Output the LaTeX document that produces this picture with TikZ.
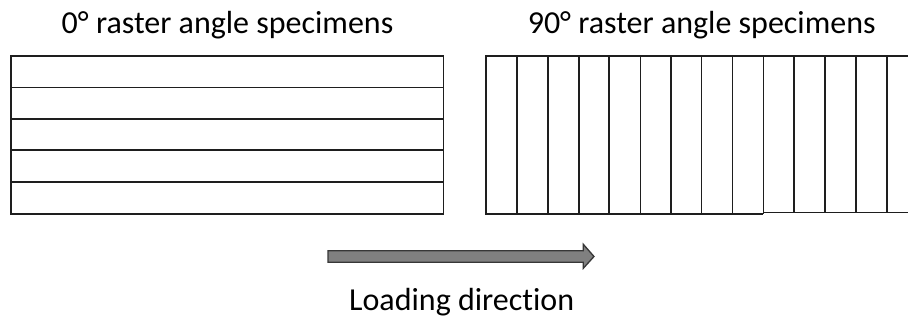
\documentclass[tikz,border=0pt]{standalone}
\usepackage{fontspec}
\setmainfont{Carlito}[Ligatures={NoCommon,NoContextual}]
\definecolor{strand}{RGB}{30,30,30}
\definecolor{arrowfill}{RGB}{128,128,128}
\definecolor{arrowedge}{RGB}{55,55,55}
\tikzset{
  caption/.style={anchor=base, inner sep=0pt, font=\fontsize{32}{38}\selectfont},
  raster/.style={draw=strand, line width=1.6pt},
  loadarrow/.style={fill=arrowfill, draw=arrowedge, line width=1.3pt, line join=miter}
}
\begin{document}
\begin{tikzpicture}[x=1pt, y=-1pt]
  \useasboundingbox (0,0) rectangle (908,320);
  \clip (0,0) rectangle (908,320);

  % captions
  \node[caption] (t0)  at (227.5,33.3) {0° raster angle specimens};
  \node[caption] (t90) at (701.7,33.3) {90° raster angle specimens};
  \node[caption] (tl)  at (461.7,310.4) {Loading direction};

  % 0 degree specimen: five strands along the length
  \draw[raster] (11,56) rectangle (443.5,214);
  \foreach \y in {87.7,119,150.3,182.3}
    \draw[raster] (11,\y) -- (443.5,\y);

  % 90 degree specimen: strands across the width, running past the edge
  \draw[raster] (910,56) -- (485.7,56) -- (485.7,214) -- (763.3,214);
  \draw[raster] (763.3,212.7) -- (910,212.7);
  \foreach \x in {516.7,547.7,578.7,609,640.3,670.7,701.3,732.3,763.3}
    \draw[raster] (\x,56) -- (\x,214);
  \foreach \x in {794,824.7,855.7,886.7}
    \draw[raster] (\x,56) -- (\x,212.7);

  % loading direction arrow
  \coordinate (a0) at (328,256.5);
  \coordinate (a1) at (594,256.5);
  \draw[loadarrow] (328,250.7) -- (583.3,250.7) -- (583.3,244.3) -- (a1)
    -- (583.3,268.3) -- (583.3,262.3) -- (328,262.3) -- cycle;
\end{tikzpicture}
\end{document}
